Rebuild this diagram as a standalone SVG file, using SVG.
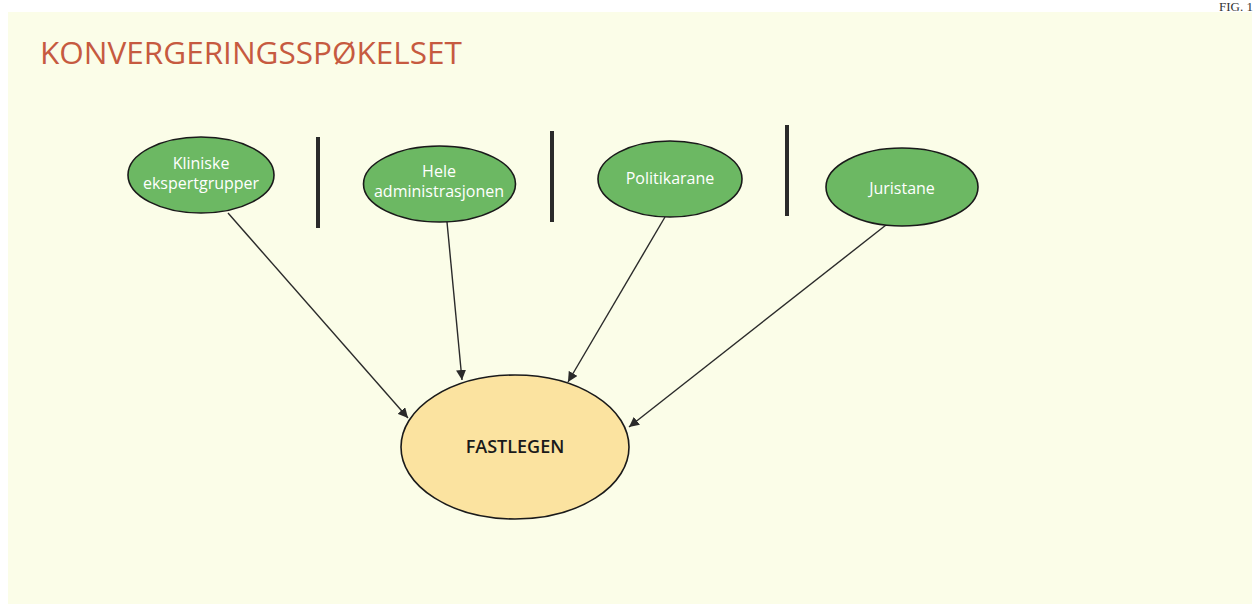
<svg xmlns="http://www.w3.org/2000/svg" width="1255" height="604" viewBox="0 0 1255 604">
<style>
.grn{fill:#6cb863;stroke:#1a1a1a;stroke-width:1.6}
.ylw{fill:#fbe3a0;stroke:#1a1a1a;stroke-width:1.6}
.wt{fill:#ffffff;font-family:"Open Sans","Noto Sans",sans-serif;font-size:16px;text-anchor:middle}
.bar{fill:#2a2a2a}
.con{stroke:#2a2a2a;stroke-width:1.4;fill:none;marker-end:url(#ah)}
</style>
<defs>
<marker id="ah" viewBox="0 0 10 10" refX="10" refY="5" markerWidth="10" markerHeight="10" markerUnits="userSpaceOnUse" orient="auto">
<path d="M0,0 L10,5 L0,10 Z" fill="#2a2a2a"/>
</marker>
</defs>
<rect x="0" y="0" width="1255" height="604" fill="#ffffff"/>
<rect x="8" y="12" width="1244" height="592" fill="#fbfde8"/>
<text x="1253" y="11" font-family="Liberation Serif,serif" font-size="13" fill="#333" text-anchor="end">FIG. 1</text>
<text x="40" y="64" font-family="Open Sans,Noto Sans,sans-serif" font-size="31.5" fill="#c65a40">KONVERGERINGSSPØKELSET</text>
<g id="bars">
<rect class="bar" x="316" y="137" width="4" height="91"/>
<rect class="bar" x="550" y="131" width="4" height="91"/>
<rect class="bar" x="785" y="125" width="4" height="91"/>
</g>
<g id="connectors">
<line class="con" x1="228" y1="213" x2="408" y2="418"/>
<line class="con" x1="447" y1="222" x2="462" y2="380"/>
<line class="con" x1="665" y1="217" x2="568" y2="382"/>
<line class="con" x1="886" y1="225" x2="629" y2="427"/>
</g>
<g id="n1">
<ellipse class="grn" cx="201" cy="175" rx="73" ry="38"/>
<text class="wt" x="201" y="169">Kliniske</text>
<text class="wt" x="201" y="189">ekspertgrupper</text>
</g>
<g id="n2">
<ellipse class="grn" cx="439.5" cy="184" rx="76" ry="38"/>
<text class="wt" x="439" y="177">Hele</text>
<text class="wt" x="439" y="197">administrasjonen</text>
</g>
<g id="n3">
<ellipse class="grn" cx="670" cy="179" rx="72" ry="38"/>
<text class="wt" x="670" y="184">Politikarane</text>
</g>
<g id="n4">
<ellipse class="grn" cx="902" cy="187" rx="76" ry="39"/>
<text class="wt" x="902" y="194">Juristane</text>
</g>
<g id="n5">
<ellipse class="ylw" cx="515" cy="447" rx="114" ry="72"/>
<text x="515" y="453" font-family="Open Sans,Noto Sans,sans-serif" font-size="18" font-weight="600" fill="#1a1a1a" text-anchor="middle">FASTLEGEN</text>
</g>
</svg>
